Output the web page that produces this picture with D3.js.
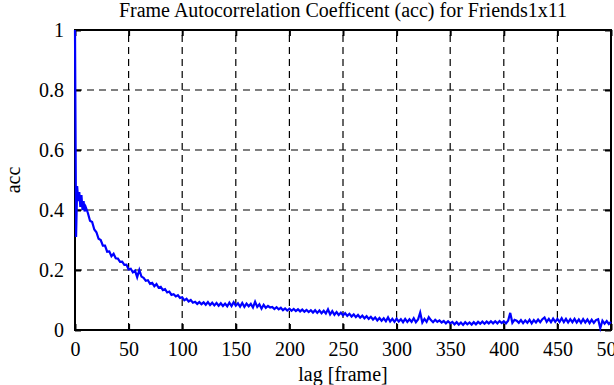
<!DOCTYPE html>
<html>
<head>
<meta charset="utf-8">
<script src="https://cdn.jsdelivr.net/npm/d3@7"></script>
<style>
  body { margin: 0; background: #fff; }
  text { font-family: "Liberation Serif", "DejaVu Serif", serif; fill: #000; }
</style>
</head>
<body>
<script>

// Values. Lags 0..10 step 1, then 12..500 step 2.

const lags = d3.range(0, 11).concat(d3.range(12, 501, 2));

const acc = [
  1.0, 0.31, 0.48, 0.43, 0.46, 0.41, 0.45, 0.40, 0.43, 0.395, 0.41,
  0.39, 0.364, 0.36, 0.335, 0.326, 0.304, 0.3, 0.281, 0.281, 0.261,
  0.262, 0.246, 0.254, 0.239, 0.238, 0.227, 0.228, 0.217, 0.218, 0.202,
  0.204, 0.192, 0.198, 0.176, 0.2, 0.178, 0.174, 0.164, 0.166, 0.154,
  0.157, 0.146, 0.153, 0.141, 0.144, 0.133, 0.136, 0.125, 0.128, 0.117,
  0.119, 0.112, 0.116, 0.107, 0.109, 0.099, 0.104, 0.095, 0.1, 0.091,
  0.094, 0.087, 0.093, 0.086, 0.092, 0.084, 0.093, 0.083, 0.091, 0.082,
  0.09, 0.081, 0.089, 0.08, 0.088, 0.079, 0.091, 0.08, 0.093, 0.081,
  0.089, 0.078, 0.09, 0.077, 0.088, 0.079, 0.087, 0.075, 0.094, 0.077,
  0.086, 0.071, 0.084, 0.074, 0.08, 0.075, 0.077, 0.07, 0.076, 0.069,
  0.074, 0.066, 0.072, 0.065, 0.071, 0.064, 0.07, 0.063, 0.069, 0.062,
  0.068, 0.061, 0.067, 0.06, 0.066, 0.058, 0.066, 0.057, 0.065, 0.056,
  0.064, 0.055, 0.069, 0.052, 0.063, 0.051, 0.06, 0.05, 0.058, 0.049,
  0.056, 0.047, 0.054, 0.045, 0.052, 0.043, 0.05, 0.041, 0.048, 0.039,
  0.046, 0.037, 0.044, 0.035, 0.042, 0.032, 0.04, 0.031, 0.039, 0.029,
  0.042, 0.028, 0.037, 0.027, 0.038, 0.028, 0.036, 0.026, 0.037, 0.027,
  0.036, 0.027, 0.039, 0.026, 0.035, 0.058, 0.025, 0.037, 0.027, 0.043,
  0.033, 0.026, 0.034, 0.027, 0.032, 0.025, 0.03, 0.022, 0.029, 0.022,
  0.027, 0.019, 0.026, 0.018, 0.025, 0.017, 0.026, 0.019, 0.025, 0.018,
  0.026, 0.019, 0.027, 0.021, 0.028, 0.021, 0.028, 0.022, 0.029, 0.022,
  0.029, 0.022, 0.03, 0.023, 0.029, 0.022, 0.031, 0.057, 0.024, 0.034,
  0.031, 0.024, 0.033, 0.023, 0.032, 0.024, 0.034, 0.022, 0.033, 0.025,
  0.035, 0.026, 0.036, 0.042, 0.027, 0.037, 0.026, 0.038, 0.027, 0.037,
  0.027, 0.039, 0.026, 0.037, 0.025, 0.036, 0.026, 0.037, 0.025, 0.035,
  0.024, 0.036, 0.025, 0.035, 0.023, 0.034, 0.024, 0.033, 0.036, 0.006,
  0.031, 0.021, 0.03, 0.02, 0.027
];

const xTicks = [0, 50, 100, 150, 200, 250, 300, 350, 400, 450, 500];
const yTicks = [0, 0.2, 0.4, 0.6, 0.8, 1];

const width = 614;
const height = 385;

let svg = d3.select("body")
    .append("svg")
    .attr("width", width)
    .attr("height", height);

let x = d3.scaleLinear().domain([0, 500]).range([75, 611]);
let y = d3.scaleLinear().domain([0, 1]).range([330, 30]);

// dashed grid

svg.append("g")
    .selectAll("line")
    .data(xTicks.slice(1, -1))
    .enter()
        .append("line")
        .attr("x1", d => x(d)).attr("x2", d => x(d))
        .attr("y1", y(0)).attr("y2", y(1))
        .attr("stroke", "#000")
        .attr("stroke-width", 1.2)
        .attr("stroke-dasharray", "7,5");

svg.append("g")
    .selectAll("line")
    .data(yTicks.slice(1, -1))
    .enter()
        .append("line")
        .attr("x1", x(0)).attr("x2", x(500))
        .attr("y1", d => y(d)).attr("y2", d => y(d))
        .attr("stroke", "#000")
        .attr("stroke-width", 1.2)
        .attr("stroke-dasharray", "7,5");

// axes (ticks point inwards, mirrored like gnuplot)

let tickLen = 6;

svg.append("g")
    .attr("transform", "translate(0," + y(0) + ")")
    .call(d3.axisBottom(x).tickValues(xTicks).tickSize(-tickLen).tickPadding(12).tickFormat(d3.format("d")))
    .call(g => g.selectAll("text").attr("font-size", 20));

svg.append("g")
    .attr("transform", "translate(0," + y(1) + ")")
    .call(d3.axisTop(x).tickValues(xTicks).tickSize(-tickLen).tickFormat(""));

svg.append("g")
    .attr("transform", "translate(" + x(0) + ",0)")
    .call(d3.axisLeft(y).tickValues(yTicks).tickSize(-tickLen).tickPadding(11).tickFormat(d => d === 0 || d === 1 ? d3.format("d")(d) : d3.format(".1f")(d)))
    .call(g => g.selectAll("text").attr("font-size", 20));

svg.append("g")
    .attr("transform", "translate(" + x(500) + ",0)")
    .call(d3.axisRight(y).tickValues(yTicks).tickSize(-tickLen).tickFormat(""));

svg.selectAll(".domain").remove();
svg.selectAll(".tick line").attr("stroke", "#000").attr("stroke-width", 2);
svg.selectAll(".tick text").attr("font-family", "Liberation Serif");

svg.append("rect")
    .attr("x", x(0)).attr("y", y(1))
    .attr("width", x(500) - x(0))
    .attr("height", y(0) - y(1))
    .attr("fill", "none")
    .attr("stroke", "#000")
    .attr("stroke-width", 2);

// data line

let line = d3.line()
    .x((d, i) => x(lags[i]))
    .y(d => y(d));

svg.append("path")
    .datum(acc)
    .attr("d", line)
    .attr("fill", "none")
    .attr("stroke", "#0000ff")
    .attr("stroke-width", 2.2);

// labels

svg.append("text")
    .attr("x", 343).attr("y", 17)
    .attr("text-anchor", "middle")
    .attr("font-size", 20)
    .text("Frame Autocorrelation Coefficent (acc) for Friends1x11");

svg.append("text")
    .attr("x", 343).attr("y", 381)
    .attr("text-anchor", "middle")
    .attr("font-size", 20)
    .text("lag [frame]");

svg.append("text")
    .attr("transform", "translate(20," + y(0.5) + ") rotate(-90)")
    .attr("text-anchor", "middle")
    .attr("font-size", 20)
    .text("acc");

</script>
</body>
</html>
